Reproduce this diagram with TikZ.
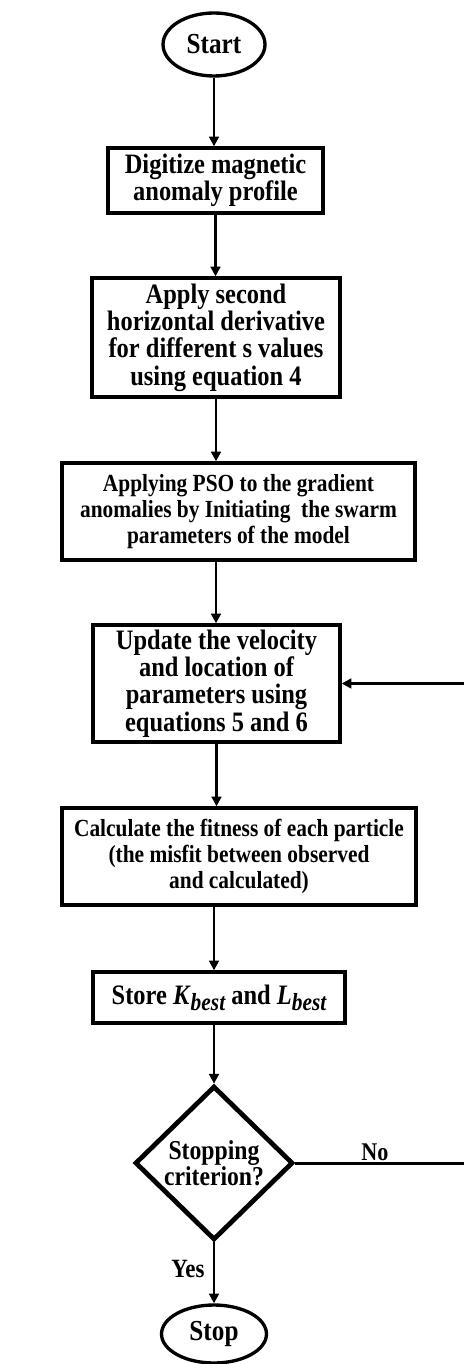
\documentclass[tikz,border=0pt]{standalone}
\usepackage{fontspec}
\setmainfont{Liberation Serif}[FakeStretch=0.87]
\usetikzlibrary{shapes.geometric,arrows.meta}
\newcommand{\mysub}[1]{\raisebox{-0.45ex}{\fontsize{14}{14}\selectfont\itshape #1}}
\begin{document}
\begin{tikzpicture}[x=0.02cm,y=-0.02cm,
  font=\fontsize{14}{15}\selectfont\bfseries,
  big/.style={font=\fontsize{16}{15.6}\selectfont\bfseries},
  box/.style={draw, line width=1.9pt, align=center, inner sep=0pt},
  term/.style={draw, ellipse, line width=1.9pt, inner sep=0pt, font=\fontsize{16.5}{16}\selectfont\bfseries},
  dec/.style={draw, diamond, line width=2.7pt, inner sep=0pt, align=center, font=\fontsize{15.5}{14.5}\selectfont\bfseries},
  arr/.style={line width=1.6pt, -{Triangle[length=5.5pt,width=5.5pt]}}]
\useasboundingbox (0,0) rectangle (463,1364);
\node[term, minimum width=2.04cm, minimum height=1.26cm] (start) at (214,44.5) {Start};
\node[box, big, minimum width=4.30cm, minimum height=1.30cm] (digit) at (215.5,180.5) {Digitize magnetic\\anomaly profile};
\node[box, big, minimum width=4.96cm, minimum height=2.38cm] (apply) at (216,337.5) {Apply second\\horizontal derivative\\for different s values\\using equation 4};
\node[box, minimum width=7.06cm, minimum height=1.94cm] (pso) at (238.5,511.5) {Applying PSO to the gradient\\anomalies by Initiating~ the swarm\\parameters of the model};
\node[box, big, minimum width=4.94cm, minimum height=2.34cm] (update) at (216.5,683.5) {Update the velocity\\and location of\\parameters using\\equations 5 and 6};
\node[box, minimum width=7.08cm, minimum height=1.94cm] (calc) at (239,856.5) {Calculate the fitness of each particle\\(the misfit between observed\\and calculated)};
\node[box, big, minimum width=5.04cm, minimum height=1.02cm] (store) at (219,997.5) {Store \textit{K}\mysub{best} and \textit{L}\mysub{best}};
\node[dec, minimum width=3.16cm, minimum height=3.08cm] (dec) at (214,1163) {Stopping\\criterion?};
\node[term, minimum width=2.10cm, minimum height=1.16cm] (stop) at (214,1334) {Stop};
\coordinate (r1) at (472,1163);
\draw[arr] (start.south) -- (start.south |- digit.north);
\draw[arr] (digit.south) -- (digit.south |- apply.north);
\draw[arr] (apply.south) -- (apply.south |- pso.north);
\draw[arr] (apply.south |- pso.south) -- (apply.south |- update.north);
\draw[arr] (update.south) -- (update.south |- calc.north);
\draw[arr] (dec.north |- calc.south) -- (dec.north |- store.north);
\draw[arr] (dec.north |- store.south) -- (dec.north);
\draw[arr] (dec.south) -- (stop.north);
\draw[arr, line width=1.7pt] (dec.east) -- (r1) |- (update.east);
\node[anchor=base, font=\fontsize{14.5}{15}\selectfont\bfseries] (nolab) at (375,1160) {No};
\node[anchor=base, font=\fontsize{15}{15}\selectfont\bfseries] (yeslab) at (188,1277) {Yes};
\end{tikzpicture}
\end{document}
